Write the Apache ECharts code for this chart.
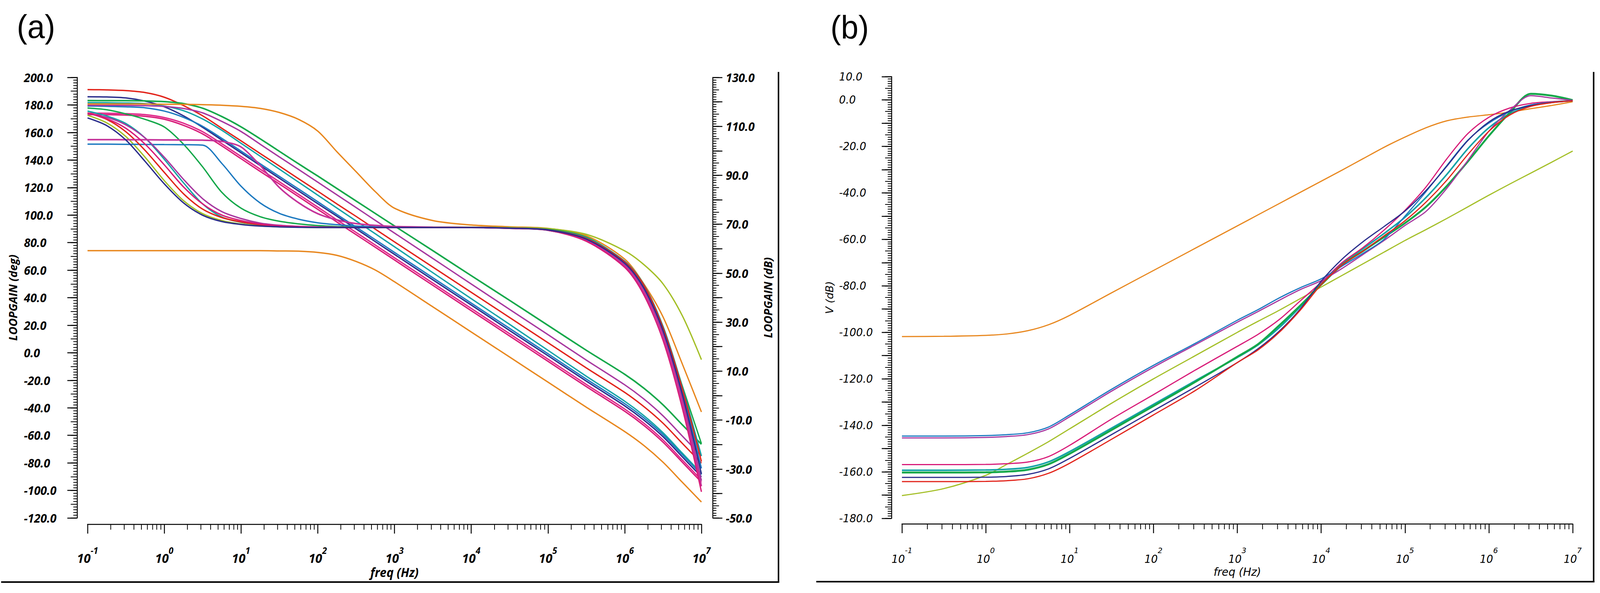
<!DOCTYPE html>
<html>
<head>
<meta charset="utf-8">
<script src="https://cdn.jsdelivr.net/npm/echarts@6/dist/echarts.min.js"></script>
<style>
html,body{margin:0;padding:0;background:#fff;overflow:hidden;}
#main{width:4277px;height:1517px;transform-origin:0 0;}
</style>
</head>
<body>
<div id="main"></div>
<script>
// ---------- Panel (a): frequency grid (Hz) ----------
const FREQ_A = [0.1, 0.1778, 0.3162, 0.5623, 1, 1.778, 3.162, 5.623, 10, 17.78, 31.62, 56.23, 100, 177.8, 316.2, 562.3, 1000, 3162, 1e4, 3.162e4, 1e5, 3.162e5, 1e6, 1.778e6, 3.162e6, 5.623e6, 1e7];

// Phase curves (deg, left axis)
const PH_NAVY    = [170.6,165,154.5,139,122.7,108.9,99.9,95.3,93.2,92,91.4,91.1,91,91,91,91,91,91,91,90.5,89.2,82.5,65,47,16,-30,-88];
const PH_OLIVE   = [172.5,167,157,142,125,110.5,101,96,93.5,92.2,91.5,91.2,91,91,91,91,91,91.2,91.2,91,90.2,86,74,64,50,27,-5];
const PH_RED     = [174.2,169.5,160.5,147,131,115.5,104.3,98.2,95,93,92,91.5,91.2,91,91,91,91,91,91,90.5,89.3,83,66,49,18,-26,-79];
const PH_CRIMSON = [174,170,163,151.5,136.5,120.5,108.1,100,96,93.5,92.2,91.6,91.3,91.1,91,91,91,91,91,90.4,89,81,62,42,9,-40,-101];
const PH_PURPLE  = [173.5,171,165.5,156,142,126,111.9,102.5,97.5,94.2,92.6,91.8,91.4,91.2,91,91,91,91,91,90.4,89,82,64,46,14,-33,-93];
const PH_TEAL    = [175.5,172,166.5,156,140.5,123.5,108.1,98.6,94.8,93,92,91.5,91.2,91,91,91,91,91,91,90.5,89.3,83.5,66.5,49.5,19,-25,-75];
const PH_GREEN   = [177.8,176.5,173.5,169.5,164,151.5,135,116.5,105,98.8,95.5,93.6,92.4,91.7,91.3,91.1,91,91,91,90.6,89.6,84,66,47,19,-24,-66];
const PH_BLUE    = [151.5,151.5,151.4,151.3,151.2,151.1,150.8,137.5,121,108.8,101.2,97,94.4,93,92,91.5,91.2,91,91,90.5,89.3,83,65.5,48,17,-28,-84];
const PH_MAGENTA = [154.8,154.8,154.7,154.7,154.6,154.5,154.4,153.5,149.5,136,120,109,101,96.5,93.8,92.5,91.7,91.2,91,90.4,89,81.5,63,44,12,-36,-97];
const PH_ORANGE  = [180.7,180.7,180.7,180.6,180.5,180.4,180.2,179.8,179,177.5,174.5,169.5,161,146,131.5,117,105,96,92.8,91.5,90.3,85,68,50,26,-8,-43];

// Magnitude curves (dB, right axis)
const MG_GREEN   = [120.55,120.5,120.5,120.4,120.1,119.3,117.4,114.0,109.8,104.9,99.8,94.7,89.7,84.6,79.5,74.4,69.3,59.2,49.0,38.9,28.7,18.5,8.7,3.0,-3.8,-11.9,-19.9];
const MG_PURPLE  = [118.6,118.6,118.55,118.45,118.15,117.3,115.5,112.0,107.9,102.7,97.5,92.4,87.2,82.0,76.8,71.6,66.4,56.0,45.6,35.2,24.9,14.5,4.4,-1.4,-8.3,-16.5,-24.7];
const MG_RED     = [125.0,124.9,124.6,123.8,121.9,118.5,114.3,109.2,104.1,98.9,93.8,88.6,83.5,78.3,73.2,68.0,62.8,52.5,42.2,31.9,21.6,11.3,1.3,-4.5,-11.3,-19.5,-27.6];
const MG_TEAL    = [119.7,119.65,119.55,119.25,118.3,116.4,113.0,108.4,103.1,97.8,92.5,87.2,81.9,76.6,71.35,66.1,60.8,50.2,39.6,29.1,18.5,7.9,-2.3,-8.2,-15.2,-23.5,-31.8];
const MG_NAVY    = [122.1,122.0,121.6,120.3,118.0,114.3,109.6,104.4,99.2,94.0,88.8,83.6,78.4,73.3,68.1,62.9,57.7,47.3,37.0,26.6,16.3,5.9,-4.2,-10.0,-16.8,-25.0,-33.2];
const MG_BLUE    = [118.3,118.2,118.0,117.6,116.25,113.7,110.0,105.1,99.9,94.7,89.55,84.4,79.2,74.0,68.85,63.7,58.5,48.15,37.8,27.45,17.1,6.75,-3.3,-9.1,-15.95,-24.1,-32.3];
const MG_PINK    = [115.4,115.35,115.2,114.8,113.6,111.3,107.8,102.9,97.7,92.5,87.35,82.2,77.0,71.8,66.65,61.5,56.3,45.95,35.6,25.25,14.9,4.55,-5.5,-11.3,-18.15,-26.3,-34.5];
const MG_CRIMSON = [114.8,114.75,114.6,114.1,112.9,110.4,106.9,102.0,96.8,91.6,86.45,81.3,76.1,70.9,65.75,60.6,55.4,45.05,34.7,24.35,14.0,3.65,-6.4,-12.2,-19.05,-27.2,-35.4];
const MG_ORANGE  = [59.2,59.2,59.2,59.2,59.2,59.2,59.2,59.2,59.2,59.2,59.1,59.0,58.5,57.3,54.8,51.3,46.5,36.25,26.0,15.75,5.5,-4.75,-14.7,-20.4,-27.25,-35.4,-43.5];

// ---------- Panel (b) ----------
const FREQ_B = [0.1, 0.3162, 1, 1.778, 3.162, 5.623, 10, 31.62, 100, 316.2, 1000, 1778, 3162, 5623, 1e4, 17783, 31623, 56234, 1e5, 177828, 316228, 562341, 1e6, 1778279, 3162278, 5623413, 1e7];
const V_ORANGE  = [-101.8,-101.7,-101.3,-100.7,-99.3,-96.7,-92.7,-83.0,-73.4,-63.8,-54.2,-49.4,-44.6,-39.8,-35.0,-30.2,-25.3,-20.4,-16.0,-12.0,-9.0,-7.4,-6.4,-5.3,-3.8,-2.4,-0.8];
const V_OLIVE   = [-170.2,-167.2,-161.5,-156.8,-152,-147,-141.5,-130.5,-120,-110,-100,-95.2,-90.5,-85.5,-80.5,-75.5,-70.5,-65.5,-60.5,-55.8,-51,-46,-41,-36.2,-31.5,-26.8,-22];
const V_BLUE    = [-144.6,-144.6,-144.4,-144.0,-143.2,-140.7,-135.5,-124.5,-114.2,-104.7,-94.8,-90.2,-85.2,-80.8,-77.0,-71.5,-66.0,-60.0,-50.0,-39.5,-28.2,-17.3,-10.0,-5.1,-2.2,-1.0,-0.3];
const V_PURPLE  = [-145.4,-145.4,-145.2,-144.8,-144.0,-141.5,-136.3,-125.3,-115.0,-105.3,-95.6,-91.0,-86.2,-81.6,-77.8,-72.5,-66.5,-60.5,-54.0,-48.0,-38.0,-26.0,-13.5,-4.5,1.8,0.8,-0.2];
const V_CRIMSON = [-156.9,-156.9,-156.8,-156.5,-155.8,-153.4,-148.6,-137.3,-126.8,-116.2,-106.0,-100.8,-94.5,-86.5,-78.5,-70.0,-63.5,-56.0,-47.5,-37.5,-25.3,-14.5,-7.5,-3.5,-1.5,-0.8,-0.4];
const V_GREEN   = [-160.3,-160.3,-160.2,-159.9,-159.1,-156.7,-152.2,-142.0,-131.7,-121.3,-110.5,-105.0,-97.0,-88.5,-79.5,-71.0,-65.0,-59.0,-53.0,-46.0,-37.0,-26.5,-15.5,-5.5,2.6,1.8,-0.1];
const V_TEAL    = [-159.3,-159.3,-159.2,-158.9,-158.1,-155.7,-151.3,-141.2,-131.0,-120.8,-110.8,-105.3,-98.0,-89.0,-79.0,-70.5,-64.0,-57.5,-50.5,-42.0,-32.0,-21.0,-12.0,-6.0,-2.5,-1.0,-0.4];
const V_NAVY    = [-162.4,-162.4,-162.3,-162.0,-161.1,-158.7,-154.2,-144.0,-133.7,-123.5,-113.0,-107.0,-99.5,-90.0,-78.0,-68.5,-61.0,-54.5,-47.8,-39.0,-28.5,-17.5,-9.5,-4.8,-2.5,-1.2,-0.4];
const V_RED     = [-164.2,-164.2,-164.1,-163.8,-163.0,-160.6,-156.3,-146.0,-135.5,-125.0,-113.0,-107.5,-100.0,-90.5,-79.5,-71.0,-65.0,-58.5,-52.0,-44.0,-34.5,-23.5,-13.5,-6.5,-2.8,-1.2,-0.4];

// Axis tick labels
const DEG_LABEL_STEP = 20;
const DB_LABEL_TOP = 130;
const V_LABEL_EXTRA = 10;

// Colours
const C = {
  red:'#e2231a', navy:'#2b2e8c', green:'#14a84a', teal:'#13a3a6', blue:'#1c79c0',
  crimson:'#d81b78', purple:'#a7379f', magenta:'#c5339a', pink:'#e0268a',
  orange:'#e8871e', olive:'#a4bf27'
};

const zip = (F, V) => F.map((f, i) => [f, V[i]]);

const FONT_A = '"Open Sans", "DejaVu Sans", sans-serif';
const FONT_B = '"DejaVu Sans", sans-serif';

function lineSeries(data, color, xi, yi, width) {
  return {
    type: 'line', xAxisIndex: xi, yAxisIndex: yi, data: data,
    showSymbol: false, symbol: 'none', smooth: 0.3,
    lineStyle: { color: color, width: width }, itemStyle: { color: color },
    emphasis: { disabled: true }, silent: true, z: 3
  };
}

function xAxisDef(grid, offset, font, weight, size, supSize, margin, nameGap, nameSize) {
  return {
    type: 'log', logBase: 10, gridIndex: grid, min: 0.1, max: 1e7, offset: offset,
    axisLine: { show: true, onZero: false, lineStyle: { color: '#000', width: 2.5 } },
    axisTick: { show: true, length: 24, lineStyle: { color: '#000', width: 2.5 } },
    minorTick: { show: true, splitNumber: 9, length: 14, lineStyle: { color: '#000', width: 2 } },
    splitLine: { show: false }, minorSplitLine: { show: false },
    axisLabel: {
      margin: margin, color: '#000',
      formatter: v => '{b|10}{s|' + Math.round(Math.log10(v)) + '}',
      rich: {
        b: { fontFamily: font, fontStyle: 'italic', fontWeight: weight, fontSize: size, color: '#000', verticalAlign: 'bottom', lineHeight: 46 },
        s: { fontFamily: font, fontStyle: 'italic', fontWeight: weight, fontSize: supSize, color: '#000', verticalAlign: 'top', lineHeight: 46 }
      }
    },
    name: 'freq (Hz)', nameLocation: 'middle', nameGap: nameGap,
    nameTextStyle: { fontFamily: font, fontStyle: 'italic', fontWeight: weight, fontSize: nameSize, color: '#000' }
  };
}

function yTickAxis(grid, pos, offset, min, max, interval, len) {
  return {
    type: 'value', gridIndex: grid, position: pos, offset: offset, min: min, max: max, interval: interval,
    axisLine: { show: false, onZero: false },
    axisTick: { show: true, length: len, lineStyle: { color: '#000', width: 2 } },
    axisLabel: { show: false }, splitLine: { show: false }
  };
}

const option = {
  animation: false,
  backgroundColor: '#fff',
  grid: [
    { left: 234, top: 198, width: 1641, height: 1127 },
    { left: 2411, top: 196, width: 1793, height: 1130 }
  ],
  xAxis: [
    xAxisDef(0, 16, FONT_A, 700, 33, 23, 56, 96, 32),
    xAxisDef(1, 14, FONT_B, 'normal', 28, 20, 58, 98, 29)
  ],
  yAxis: [
    { // 0: phase (deg), labelled
      type: 'value', gridIndex: 0, position: 'left', offset: 28, min: -120, max: 200, interval: DEG_LABEL_STEP,
      axisLine: { show: true, onZero: false, lineStyle: { color: '#000', width: 2.5 } },
      axisTick: { show: true, length: 26, lineStyle: { color: '#000', width: 2.5 } },
      minorTick: { show: true, splitNumber: 10, length: 10, lineStyle: { color: '#000', width: 2 } },
      splitLine: { show: false },
      axisLabel: { align: 'left', margin: 142, color: '#000', fontFamily: FONT_A, fontStyle: 'italic', fontWeight: 700, fontSize: 31,
        formatter: v => v.toFixed(1) },
      name: 'LOOPGAIN (deg)', nameLocation: 'middle', nameRotate: 90, nameGap: 157,
      nameTextStyle: { fontFamily: FONT_A, fontStyle: 'italic', fontWeight: 700, fontSize: 29, color: '#000' }
    },
    yTickAxis(0, 'left', 28, -120, 200, 10, 17), // 1
    { // 2: loop gain (dB), labelled
      type: 'value', gridIndex: 0, position: 'right', offset: 30, min: -50, max: 130, interval: 10,
      axisLine: { show: true, onZero: false, lineStyle: { color: '#000', width: 2.5 } },
      axisTick: { show: true, length: 26, lineStyle: { color: '#000', width: 2.5 } },
      minorTick: { show: true, splitNumber: 10, length: 10, lineStyle: { color: '#000', width: 2 } },
      splitLine: { show: false },
      axisLabel: { align: 'left', margin: 35, color: '#000', fontFamily: FONT_A, fontStyle: 'italic', fontWeight: 700, fontSize: 31,
        formatter: v => ((DB_LABEL_TOP - v) % 20 === 0 ? v.toFixed(1) : '') },
      name: 'LOOPGAIN (dB)', nameLocation: 'middle', nameRotate: 90, nameGap: 134,
      nameTextStyle: { fontFamily: FONT_A, fontStyle: 'italic', fontWeight: 700, fontSize: 29, color: '#000' }
    },
    yTickAxis(0, 'right', 30, -50, 130, 5, 17), // 3
    { // 4: V (dB), labelled
      type: 'value', gridIndex: 1, position: 'left', offset: 28, min: -180, max: 10, interval: 10,
      axisLine: { show: true, onZero: false, lineStyle: { color: '#000', width: 2.5 } },
      axisTick: { show: true, length: 26, lineStyle: { color: '#000', width: 2.5 } },
      minorTick: { show: true, splitNumber: 10, length: 10, lineStyle: { color: '#000', width: 2 } },
      splitLine: { show: false },
      axisLabel: { align: 'left', margin: 140, color: '#000', fontFamily: FONT_B, fontStyle: 'italic', fontSize: 28,
        formatter: v => ((v === V_LABEL_EXTRA || v % 20 === 0) ? v.toFixed(1) : '') },
      name: 'V (dB)', nameLocation: 'middle', nameRotate: 90, nameGap: 152,
      nameTextStyle: { fontFamily: FONT_B, fontStyle: 'italic', fontSize: 27, color: '#000' }
    },
    yTickAxis(1, 'left', 28, -180, 10, 5, 17) // 5
  ],
  series: [
    // panel (a) magnitudes
    lineSeries(zip(FREQ_A, MG_ORANGE), C.orange, 0, 2, 3.5),
    lineSeries(zip(FREQ_A, MG_CRIMSON), C.crimson, 0, 2, 3.5),
    lineSeries(zip(FREQ_A, MG_PINK), C.pink, 0, 2, 3.5),
    lineSeries(zip(FREQ_A, MG_NAVY), C.navy, 0, 2, 3.5),
    lineSeries(zip(FREQ_A, MG_BLUE), C.blue, 0, 2, 3.5),
    lineSeries(zip(FREQ_A, MG_TEAL), C.teal, 0, 2, 3.5),
    lineSeries(zip(FREQ_A, MG_RED), C.red, 0, 2, 3.5),
    lineSeries(zip(FREQ_A, MG_PURPLE), C.purple, 0, 2, 3.5),
    lineSeries(zip(FREQ_A, MG_GREEN), C.green, 0, 2, 4),
    // panel (a) phases
    lineSeries(zip(FREQ_A, PH_ORANGE), C.orange, 0, 0, 3.5),
    lineSeries(zip(FREQ_A, PH_OLIVE), C.olive, 0, 0, 3.5),
    lineSeries(zip(FREQ_A, PH_GREEN), C.green, 0, 0, 3.5),
    lineSeries(zip(FREQ_A, PH_TEAL), C.teal, 0, 0, 3.5),
    lineSeries(zip(FREQ_A, PH_BLUE), C.blue, 0, 0, 3.5),
    lineSeries(zip(FREQ_A, PH_RED), C.red, 0, 0, 3.5),
    lineSeries(zip(FREQ_A, PH_PURPLE), C.purple, 0, 0, 3.5),
    lineSeries(zip(FREQ_A, PH_MAGENTA), C.magenta, 0, 0, 4),
    lineSeries(zip(FREQ_A, PH_CRIMSON), C.crimson, 0, 0, 3.5),
    lineSeries(zip(FREQ_A, PH_NAVY), C.navy, 0, 0, 3.5),
    // panel (b)
    lineSeries(zip(FREQ_B, V_ORANGE), C.orange, 1, 4, 3),
    lineSeries(zip(FREQ_B, V_OLIVE), C.olive, 1, 4, 3),
    lineSeries(zip(FREQ_B, V_TEAL), C.teal, 1, 4, 4),
    lineSeries(zip(FREQ_B, V_GREEN), C.green, 1, 4, 5),
    lineSeries(zip(FREQ_B, V_CRIMSON), C.crimson, 1, 4, 3),
    lineSeries(zip(FREQ_B, V_PURPLE), C.purple, 1, 4, 3),
    lineSeries(zip(FREQ_B, V_BLUE), C.blue, 1, 4, 3),
    lineSeries(zip(FREQ_B, V_NAVY), C.navy, 1, 4, 3),
    lineSeries(zip(FREQ_B, V_RED), C.red, 1, 4, 3)
  ],
  graphic: [
    { type: 'text', x: 45, y: 68, style: { text: '(a)', fill: '#000', font: '84px "Liberation Sans", Arial, sans-serif', verticalAlign: 'middle', align: 'left' } },
    { type: 'text', x: 2220, y: 70, style: { text: '(b)', fill: '#000', font: '84px "Liberation Sans", Arial, sans-serif', verticalAlign: 'middle', align: 'left' } },
    { type: 'line', shape: { x1: 2081, y1: 184, x2: 2081, y2: 1490 }, style: { stroke: '#000', lineWidth: 4 } },
    { type: 'line', shape: { x1: 3, y1: 1489, x2: 2083, y2: 1489 }, style: { stroke: '#000', lineWidth: 4 } },
    { type: 'line', shape: { x1: 4260, y1: 184, x2: 4260, y2: 1490 }, style: { stroke: '#000', lineWidth: 4 } },
    { type: 'line', shape: { x1: 2182, y1: 1488, x2: 4262, y2: 1488 }, style: { stroke: '#000', lineWidth: 4 } }
  ]
};

// Fit the 4277x1517 design into the actual viewport (in case the window is narrower).
const el = document.getElementById('main');
const vw = Math.min(window.innerWidth || 4277, document.documentElement.clientWidth || 4277);
const vh = Math.min(window.innerHeight || 1517, document.documentElement.clientHeight || 1517);
const sx = vw / 4277, sy = vh / 1517;
if (Math.abs(sx - 1) > 0.002 || Math.abs(sy - 1) > 0.002) {
  el.style.transform = 'scale(' + sx + ',' + sy + ')';
}
const chart = echarts.init(el, null, { renderer: 'svg' });
chart.setOption(option);
</script>
</body>
</html>
